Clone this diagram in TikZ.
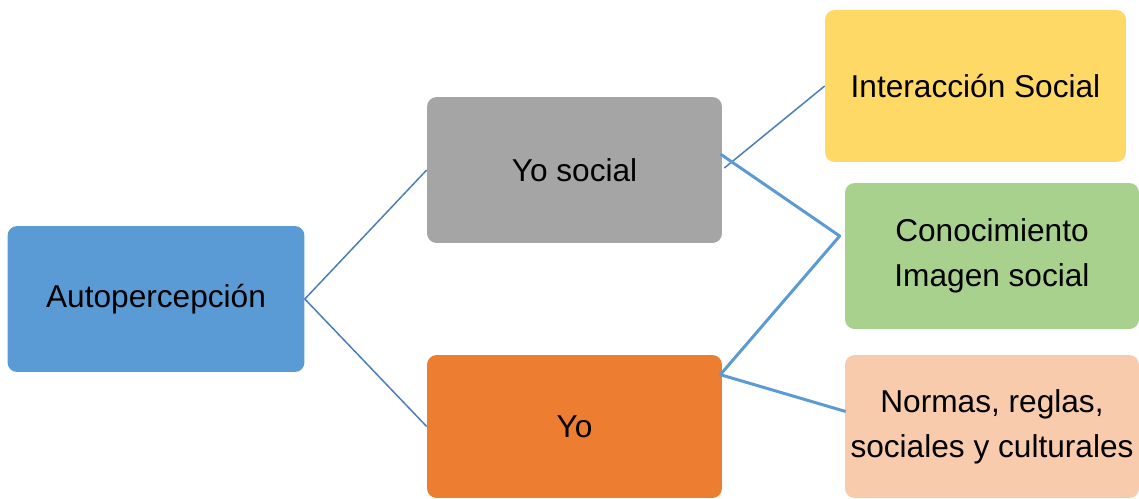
\documentclass[tikz,border=0pt]{standalone}
\usepackage{fontspec}
\setmainfont{Liberation Sans}
\usepackage{xcolor}
\usetikzlibrary{positioning, calc}
\definecolor{boxblue}{HTML}{5B9BD5}
\definecolor{boxgray}{HTML}{A5A5A5}
\definecolor{boxorange}{HTML}{ED7D31}
\definecolor{boxyellow}{HTML}{FFD966}
\definecolor{boxgreen}{HTML}{A9D18E}
\definecolor{boxpeach}{HTML}{F8CBAD}
\definecolor{linedark}{HTML}{4A7EBB}
\begin{document}
\begin{tikzpicture}[x=0.02cm, y=-0.02cm,
    box/.style={rectangle, rounded corners=5.5pt, inner sep=0pt, align=center, text=black, font=\fontsize{18}{25.5}\selectfont},
    thinline/.style={draw=linedark, line width=0.85pt},
    thickline/.style={draw=boxblue, line width=1.7pt}]
      \useasboundingbox (0, 0) rectangle (1139, 498);

      \node[box, fill=boxblue, minimum width=5.94cm, minimum height=2.92cm] (auto) at (156, 299) {Autopercepción};
      \node[box, fill=boxgray, minimum width=5.9cm, minimum height=2.92cm] (yosocial) at (574.5, 170) {Yo social};
      \node[box, fill=boxorange, minimum width=5.9cm, minimum height=2.86cm] (yo) at (574.5, 426.5) {Yo};
      \node[box, fill=boxyellow, minimum width=6.02cm, minimum height=3.04cm] (inter) at (975.5, 86) {Interacción Social};
      \node[box, fill=boxgreen, minimum width=5.88cm, minimum height=2.92cm] (conoc) at (992, 256) {Conocimiento\\Imagen social};
      \node[box, fill=boxpeach, minimum width=5.88cm, minimum height=2.86cm] (normas) at (992, 426.5) {Normas, reglas,\\sociales y culturales};

      \draw[thinline] (yosocial.west) -- (auto.east) -- (yo.west);
      \draw[thinline] ($(yosocial.east)+(2, -2)$) -- (inter.west);
      \draw[thickline, line join=round] ($(yosocial.east)+(-2, -16)$) -- ($(conoc.west)+(-5, -20)$) -- ($(yo.north east)+(-2, 20)$) -- ($(normas.west)+(1, -15)$);
    \end{tikzpicture}
\end{document}
